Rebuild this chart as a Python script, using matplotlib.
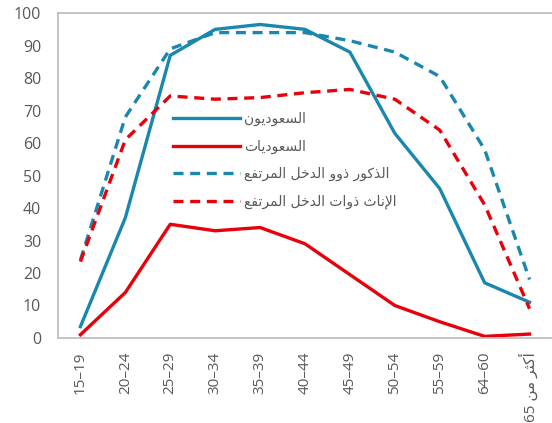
import re
import numpy as np
import matplotlib
matplotlib.use("Agg")
from matplotlib import pyplot as plt

# data
groups = ["15–19", "20–24", "25–29", "30–34", "35–39", "40–44",
          "45–49", "50–54", "55–59", "64–60", "أكثر من 65"]
saudi_men = [3.5, 37, 87, 95, 96.5, 95, 88, 63, 46, 17, 11]
saudi_women = [1, 14, 35, 33, 34, 29, 19.5, 10, 5, 0.5, 1.2]
hi_men = [24, 68, 89, 94, 94, 94, 91.5, 88, 80.5, 58, 18]
hi_women = [23.5, 61, 74.5, 73.5, 74, 75.5, 76.5, 73.5, 64, 41, 9]
labels = ["السعوديون", "السعوديات",
          "الذكور ذوو الدخل المرتفع", "الإناث ذوات الدخل المرتفع"]

# minimal arabic shaping (matplotlib has no bidi / joining)
# letter: (isolated, final, initial, medial) ; None = does not join forward
FORMS = {
    "ا": (0xFE8D, 0xFE8E, None, None), "أ": (0xFE83, 0xFE84, None, None),
    "إ": (0xFE87, 0xFE88, None, None), "د": (0xFEA9, 0xFEAA, None, None),
    "ذ": (0xFEAB, 0xFEAC, None, None), "ر": (0xFEAD, 0xFEAE, None, None),
    "و": (0xFEED, 0xFEEE, None, None),
    "ت": (0xFE95, 0xFE96, 0xFE97, 0xFE98), "ث": (0xFE99, 0xFE9A, 0xFE9B, 0xFE9C),
    "خ": (0xFEA5, 0xFEA6, 0xFEA7, 0xFEA8), "س": (0xFEB1, 0xFEB2, 0xFEB3, 0xFEB4),
    "ع": (0xFEC9, 0xFECA, 0xFECB, 0xFECC), "ف": (0xFED1, 0xFED2, 0xFED3, 0xFED4),
    "ك": (0xFED9, 0xFEDA, 0xFEDB, 0xFEDC), "ل": (0xFEDD, 0xFEDE, 0xFEDF, 0xFEE0),
    "م": (0xFEE1, 0xFEE2, 0xFEE3, 0xFEE4), "ن": (0xFEE5, 0xFEE6, 0xFEE7, 0xFEE8),
    "ي": (0xFEF1, 0xFEF2, 0xFEF3, 0xFEF4),
}
LAMALEF = {"ا": (0xFEFB, 0xFEFC), "أ": (0xFEF7, 0xFEF8), "إ": (0xFEF9, 0xFEFA)}


def shape(txt):
    if not any(c in FORMS for c in txt):
        return txt
    out = []
    i = 0
    n = len(txt)
    while i < n:
        c = txt[i]
        if c not in FORMS:
            out.append(c)
            i += 1
            continue
        prev = txt[i - 1] if i > 0 else ""
        joins_prev = prev in FORMS and FORMS[prev][2] is not None
        if c == "ل" and i + 1 < n and txt[i + 1] in LAMALEF:
            out.append(chr(LAMALEF[txt[i + 1]][1 if joins_prev else 0]))
            i += 2
            continue
        nxt = txt[i + 1] if i + 1 < n else ""
        joins_next = FORMS[c][2] is not None and nxt in FORMS
        f = FORMS[c]
        if joins_prev and joins_next:
            g = f[3]
        elif joins_prev:
            g = f[1]
        elif joins_next:
            g = f[2]
        else:
            g = f[0]
        out.append(chr(g))
        i += 1
    vis = "".join(out)[::-1]
    # put digit runs back in reading order
    return re.sub(r"[0-9]+", lambda m: m.group(0)[::-1], vis)


grey = "#595959"
blue = "#1a87ae"
red = "#e8000b"
fam = ["Open Sans", "DejaVu Sans"]
plt.rcParams["font.family"] = fam

fig = plt.figure(figsize=(5.52, 4.23), dpi=100)
ax = fig.add_axes([0.105, 0.201, 0.895, 0.768])
x = np.arange(len(groups))

ax.plot(x, saudi_men, color=blue, lw=2.4, label=shape(labels[0]))
ax.plot(x, saudi_women, color=red, lw=2.4, label=shape(labels[1]))
ax.plot(x, hi_men, color=blue, lw=2.4, ls=(0, (3, 2)), label=shape(labels[2]))
ax.plot(x, hi_women, color=red, lw=2.4, ls=(0, (3, 2)), label=shape(labels[3]))

ax.set_xlim(-0.5, len(groups) - 0.5)
ax.set_ylim(0, 100)
ax.set_yticks(range(0, 101, 10))
ax.set_xticks(x)
ax.set_xticklabels([shape(g) for g in groups], rotation=90, va="top", ha="center")
ax.tick_params(axis="y", length=0, pad=12, labelsize=11.5, labelcolor=grey)
ax.tick_params(axis="x", length=0, pad=10, labelsize=11, labelcolor=grey)

for s in ["left", "bottom", "top"]:
    ax.spines[s].set_color("#bfbfbf")
    ax.spines[s].set_linewidth(1.3)
ax.spines["right"].set_visible(False)

leg = ax.legend(loc="upper left", bbox_to_anchor=(0.233, 0.695), frameon=False,
                handlelength=4.8, handletextpad=0.3, labelspacing=0.95,
                borderpad=0, borderaxespad=0,
                prop={"family": ["DejaVu Sans"], "size": 10})
for t in leg.get_texts():
    t.set_color(grey)

plt.savefig("out.png", dpi=100)
